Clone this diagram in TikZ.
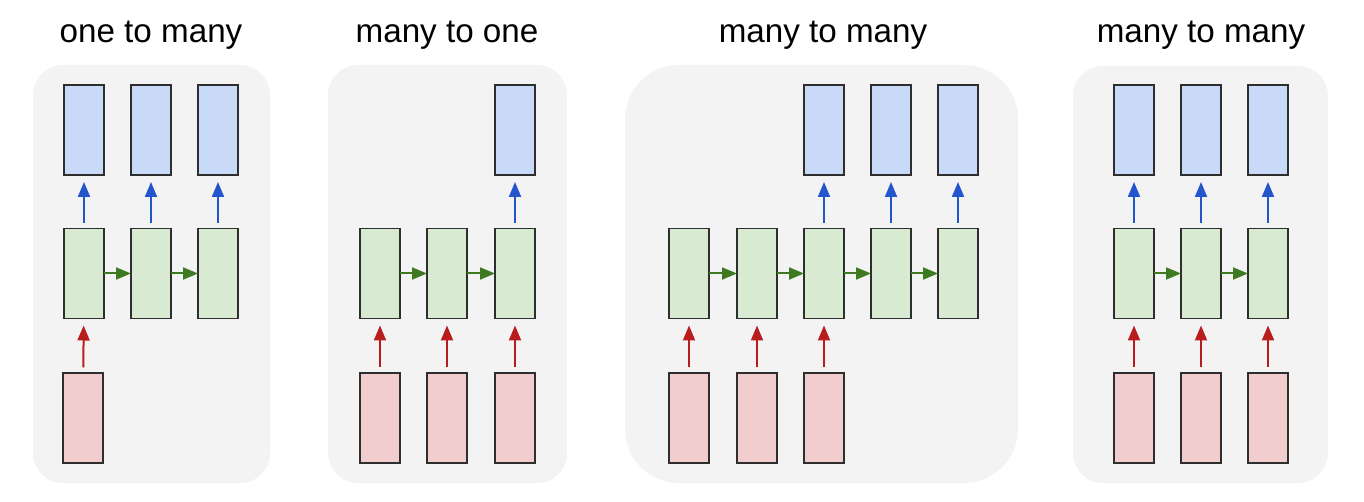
\documentclass[tikz,border=0pt]{standalone}
\usepackage{fontspec}
\setmainfont{Liberation Sans}
\usepackage{xcolor}
\usepackage{tikz}
\usetikzlibrary{arrows.meta,calc}
\definecolor{PanelBg}{HTML}{F3F3F3}
\definecolor{BoxLine}{HTML}{2E2E2E}
\definecolor{OutFill}{HTML}{C9DAF8}
\definecolor{HidFill}{HTML}{D9EAD3}
\definecolor{InFill}{HTML}{F2CDCD}
\definecolor{OutArrow}{HTML}{2356CC}
\definecolor{HidArrow}{HTML}{3F7A22}
\definecolor{InArrow}{HTML}{B81C1C}

\tikzset{
    cellbox/.style={draw=BoxLine, line width=0.8pt, minimum width=20pt, minimum height=45pt, inner sep=0pt, outer sep=0pt},
    outbox/.style={cellbox, fill=OutFill},
    hidbox/.style={cellbox, fill=HidFill},
    inbox/.style={cellbox, fill=InFill},
    uparrow/.style={line width=1pt, -{Triangle[length=7.5pt,width=6pt]}, shorten <=2.75pt, shorten >=3.5pt},
    outarrow/.style={uparrow, OutArrow},
    inarrow/.style={uparrow, InArrow},
    hidarrow/.style={line width=1pt, HidArrow, -{Triangle[length=7.5pt,width=6pt]}},
    paneltitle/.style={anchor=base, inner sep=0pt, font=\fontsize{16.6}{20}\selectfont}
}

\begin{document}
\begin{tikzpicture}[x=0.5pt, y=0.5pt]
        \useasboundingbox (0,0) rectangle (1364,502);
        \fill[white] (0,0) rectangle (1364,502);

        % panels
        \fill[PanelBg, rounded corners=15pt] (33,19) rectangle (270,437);
        \fill[PanelBg, rounded corners=15pt] (328,19) rectangle (567,437);
        \fill[PanelBg, rounded corners=27pt] (625,19) rectangle (1018,437);
        \fill[PanelBg, rounded corners=15pt] (1073,19) rectangle (1328,436);

        % titles
        \node[paneltitle] (title1) at (151,459) {one to many};
        \node[paneltitle] (title2) at (447,459) {many to one};
        \node[paneltitle] (title3) at (823,459) {many to many};
        \node[paneltitle] (title4) at (1201,459) {many to many};

        % one to many
        \foreach \i/\x in {1/84,2/151,3/218} {
            \node[hidbox] (ah\i) at (\x,228.5) {};
            \node[outbox] (ao\i) at (\x,372) {};
            \draw[outarrow] (ah\i) -- (ao\i);
        }
        \node[inbox] (ai1) at (83,84) {};
        \draw[inarrow] (ai1) -- (ah1);
        \foreach \i/\j in {1/2,2/3} {
            \draw[hidarrow] (ah\i) -- (ah\j);
        }

        % many to one
        \foreach \i/\x in {1/380,2/447,3/515} {
            \node[hidbox] (bh\i) at (\x,228.5) {};
            \node[inbox] (bi\i) at (\x,84) {};
            \draw[inarrow] (bi\i) -- (bh\i);
        }
        \node[outbox] (bo3) at (515,372) {};
        \draw[outarrow] (bh3) -- (bo3);
        \foreach \i/\j in {1/2,2/3} {
            \draw[hidarrow] (bh\i) -- (bh\j);
        }

        % many to many (delayed)
        \foreach \i/\x in {1/689,2/757,3/824,4/891,5/958} {
            \node[hidbox] (ch\i) at (\x,228.5) {};
        }
        \foreach \i in {1,2,3} {
            \node[inbox] (ci\i) at ($(ch\i)+(0,-144.5)$) {};
            \draw[inarrow] (ci\i) -- (ch\i);
        }
        \foreach \i in {3,4,5} {
            \node[outbox] (co\i) at ($(ch\i)+(0,143.5)$) {};
            \draw[outarrow] (ch\i) -- (co\i);
        }
        \foreach \i/\j in {1/2,2/3,3/4,4/5} {
            \draw[hidarrow] (ch\i) -- (ch\j);
        }

        % many to many (synced)
        \foreach \i/\x in {1/1134,2/1201,3/1268} {
            \node[hidbox] (dh\i) at (\x,228.5) {};
            \node[inbox] (di\i) at (\x,84) {};
            \node[outbox] (do\i) at (\x,372) {};
            \draw[inarrow] (di\i) -- (dh\i);
            \draw[outarrow] (dh\i) -- (do\i);
        }
        \foreach \i/\j in {1/2,2/3} {
            \draw[hidarrow] (dh\i) -- (dh\j);
        }
    \end{tikzpicture}
\end{document}
